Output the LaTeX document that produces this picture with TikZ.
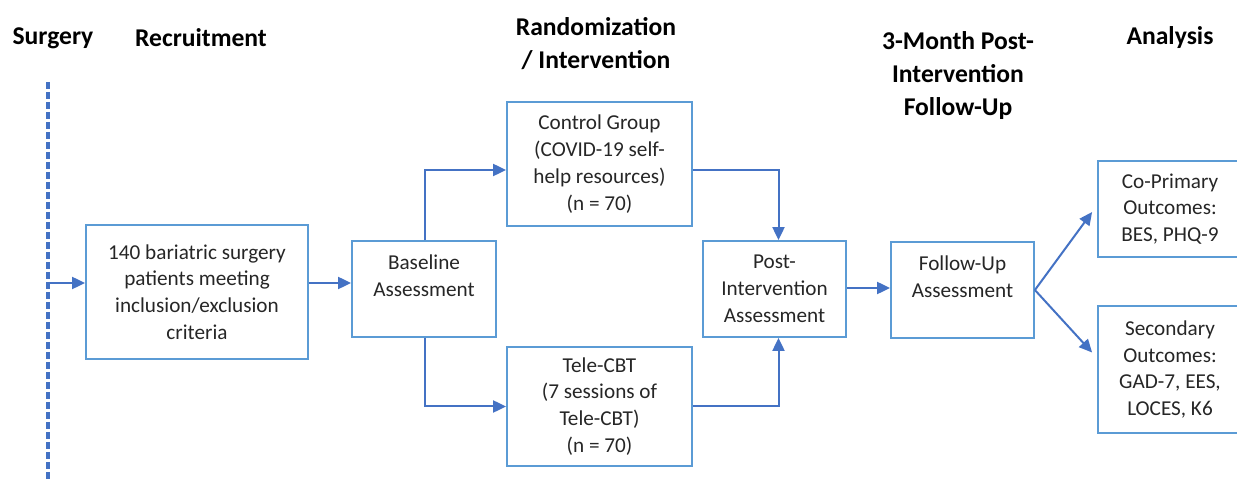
\documentclass[tikz,border=0pt]{standalone}
\usepackage{fontspec}
\setmainfont{Carlito}
\usetikzlibrary{arrows.meta,calc}
\definecolor{boxblue}{HTML}{5B9BD5}
\definecolor{arrowblue}{HTML}{4472C4}
\definecolor{ink}{HTML}{262626}
\begin{document}
\begin{tikzpicture}[x=0.5pt,y=-0.5pt,
  box/.style={draw=boxblue,line width=0.9pt,align=center,inner sep=0pt,
    text=ink,font=\fontsize{10.6}{13.4}\selectfont},
  head/.style={align=center,inner sep=0pt,text=black,
    font=\bfseries\fontsize{12.8}{16.5}\selectfont},
  arr/.style={draw=arrowblue,line width=1pt,-{Triangle[length=6.5pt,width=6pt]}},
  timeline/.style={draw=arrowblue,line width=1.6pt,dash pattern=on 3.5pt off 1.5pt},
]
\clip (0,0) rectangle (1237,480);

% column headings
\node[head] (hsurg) at (53,38) {Surgery};
\node[head] (hrec) at (201,38) {Recruitment};
\node[head] (hrand) at (596,44) {Randomization\\/ Intervention};
\node[head] (hfu) at (958,76) {3-Month Post-\\Intervention\\Follow-Up};
\node[head] (hana) at (1170,38) {Analysis};

% surgery time line
\coordinate (ltop) at (48,82);
\coordinate (lbot) at (48,482);
\coordinate (entry) at (48,283);
\draw[timeline] (ltop) -- (lbot);

% boxes
\node[box,minimum width=111pt,minimum height=67pt] (rec) at (197,292)
  {140 bariatric surgery\\patients meeting\\inclusion/exclusion\\criteria};
\node[box,minimum width=72pt,minimum height=48pt] (base) at (424,289)
  {Baseline\\Assessment\\\mbox{}};
\node[box,minimum width=92.5pt,minimum height=62pt] (ctrl) at (599.5,164)
  {Control Group\\(COVID-19 self-\\help resources)\\(n = 70)};
\node[box,minimum width=92.5pt,minimum height=59.5pt] (tele) at (599.5,406.5)
  {Tele-CBT\\(7 sessions of\\Tele-CBT)\\(n = 70)};
\node[box,minimum width=71.5pt,minimum height=48pt] (post) at (774.5,289)
  {Post-\\Intervention\\Assessment};
\node[box,minimum width=71.5pt,minimum height=48pt] (fu) at (962.5,290)
  {Follow-Up\\Assessment\\\mbox{}};
\node[box,minimum width=72pt,minimum height=48pt] (prim) at (1170,209)
  {Co-Primary\\Outcomes:\\BES, PHQ-9};
\node[box,minimum width=72pt,minimum height=63.5pt] (sec) at (1170,369.5)
  {Secondary\\Outcomes:\\GAD-7, EES,\\LOCES, K6};

% connectors
\coordinate (pfrom) at ($(post.east)+(0,-1)$);
\draw[arr] (entry) -- (rec.west |- entry);
\draw[arr] (rec.east |- entry) -- (base.west |- entry);
\draw[arr] ([xshift=0.5pt]base.north) |- ([yshift=-3pt]ctrl.west);
\draw[arr] ([xshift=0.5pt]base.south) |- (tele.west);
\draw[arr] ([yshift=-3pt]ctrl.east) -| ([xshift=2pt]post.north);
\draw[arr] (tele.east) -| ([xshift=2pt]post.south);
\draw[arr] (pfrom) -- (fu.west |- pfrom);
\draw[arr] (fu.east) -- ($(prim.west)+(-5,3)$);
\draw[arr] (fu.east) -- ($(sec.west)+(-5,-17)$);
\end{tikzpicture}
\end{document}
